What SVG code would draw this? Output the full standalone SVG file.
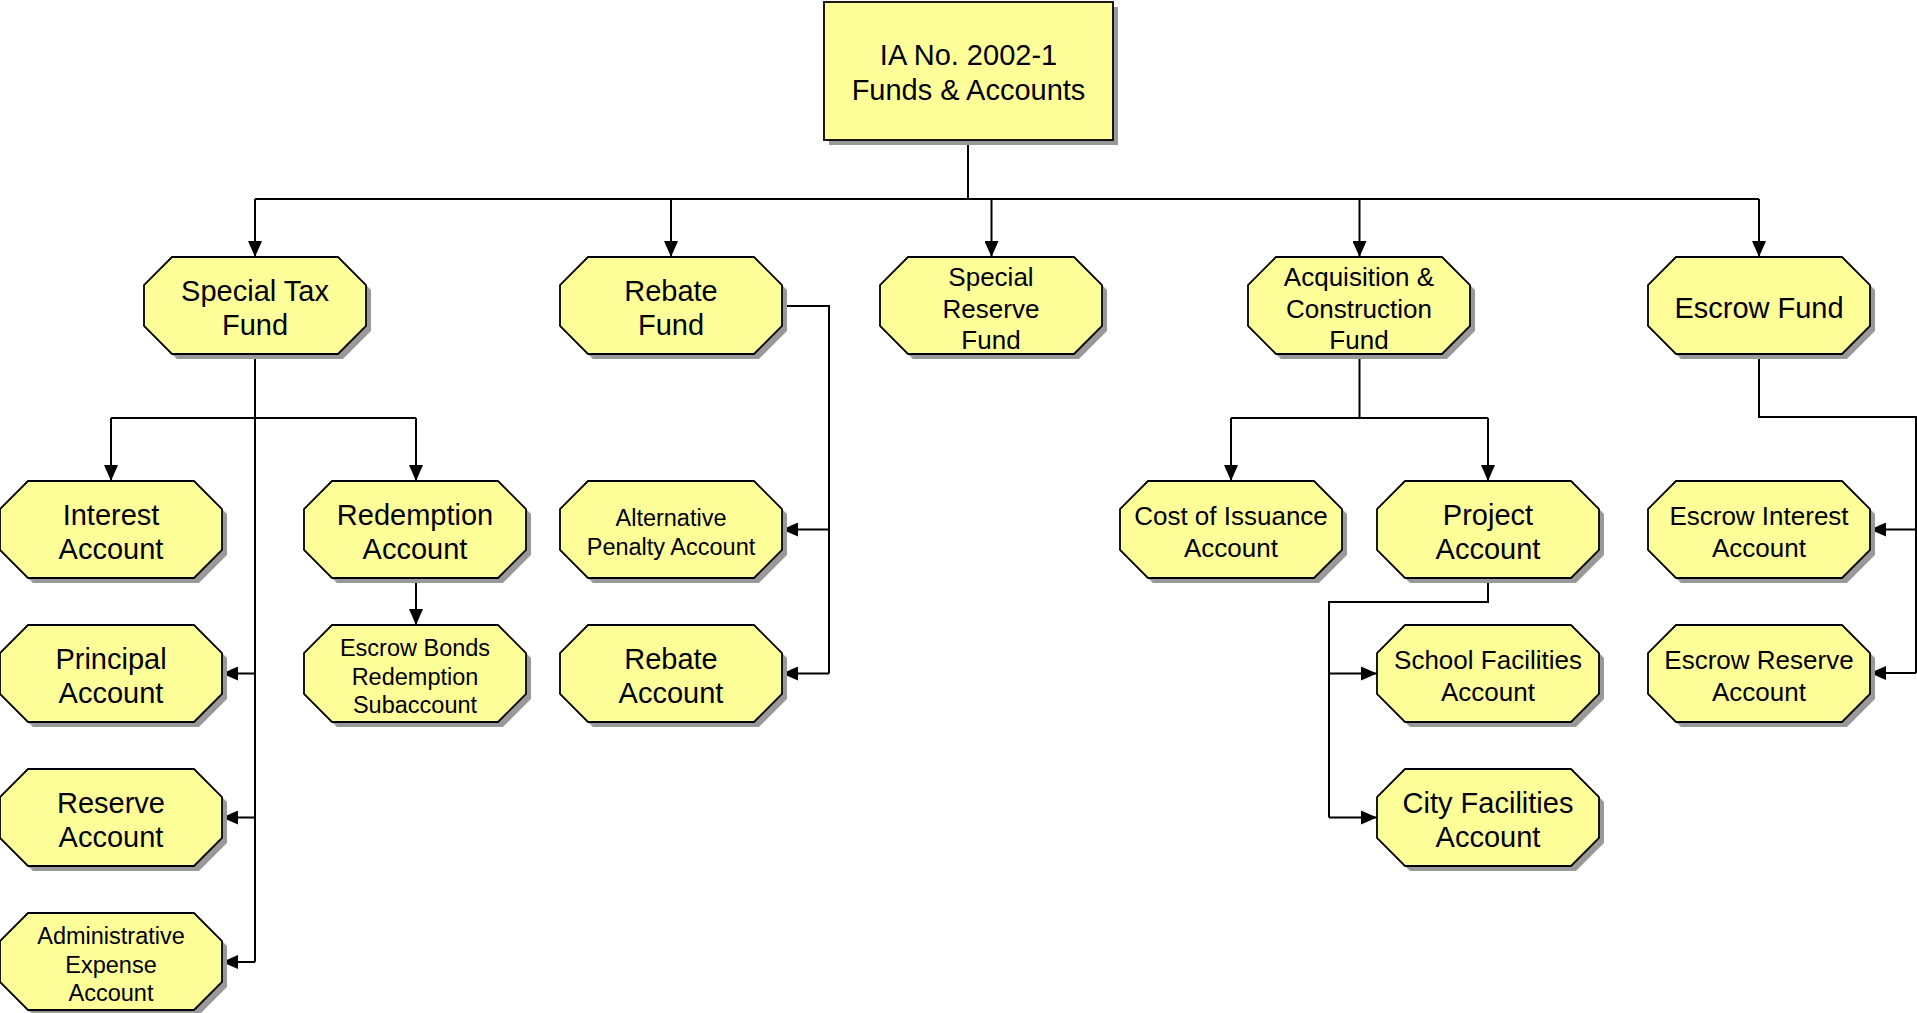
<svg xmlns="http://www.w3.org/2000/svg" xmlns:xlink="http://www.w3.org/1999/xlink" width="1917" height="1013" viewBox="0 0 1917 1013">
<style>
.oct{fill:#FFFF99;stroke:#000;stroke-width:1.8}
.sh{fill:#999}
text{font-family:"Liberation Sans",Arial,sans-serif;fill:#000;text-anchor:middle}
.b{font-size:29px}
.m{font-size:26px}
.s{font-size:23.5px}
.c path{fill:none;stroke:#000;stroke-width:2}
</style>
<defs>
<polygon id="o" points="28,0 194,0 222,28 222,69 194,97 28,97 0,69 0,28"/>
<marker id="a" viewBox="0 0 16 14" refX="16" refY="7" markerWidth="16" markerHeight="14" markerUnits="userSpaceOnUse" orient="auto">
<path d="M0,0 L16,7 L0,14 Z" fill="#000"/>
</marker>
</defs>
<rect width="1917" height="1013" fill="#fff"/>

<g class="c" id="connectors">
<path d="M968,140 V199 M255,199 H1759"/>
<path d="M255,199 V257" marker-end="url(#a)"/>
<path d="M671,199 V257" marker-end="url(#a)"/>
<path d="M991.5,199 V257" marker-end="url(#a)"/>
<path d="M1359.5,199 V257" marker-end="url(#a)"/>
<path d="M1759,199 V257" marker-end="url(#a)"/>
<path d="M255,354 V962 M111,418 H416"/>
<path d="M111,418 V481" marker-end="url(#a)"/>
<path d="M416,418 V481" marker-end="url(#a)"/>
<path d="M255,673.5 H222" marker-end="url(#a)"/>
<path d="M255,817.5 H222" marker-end="url(#a)"/>
<path d="M255,962 H222" marker-end="url(#a)"/>
<path d="M416,578 V625" marker-end="url(#a)"/>
<path d="M782,306 H829 V673.5"/>
<path d="M829,529.5 H782" marker-end="url(#a)"/>
<path d="M829,673.5 H782" marker-end="url(#a)"/>
<path d="M1359.5,354 V418 M1231,418 H1488"/>
<path d="M1231,418 V481" marker-end="url(#a)"/>
<path d="M1488,418 V481" marker-end="url(#a)"/>
<path d="M1488,578 V602 H1329 V817.5"/>
<path d="M1329,673.5 H1377" marker-end="url(#a)"/>
<path d="M1329,817.5 H1377" marker-end="url(#a)"/>
<path d="M1759,354 V417 H1916 V673"/>
<path d="M1916,529.5 H1870" marker-end="url(#a)"/>
<path d="M1916,673 H1870" marker-end="url(#a)"/>
</g>

<g id="root">
<rect x="829" y="7" width="289" height="138" class="sh"/>
<rect x="824" y="2" width="289" height="138" class="oct"/>
<text class="b" x="968.5" y="65">IA No. 2002-1</text>
<text class="b" x="968.5" y="100">Funds &amp; Accounts</text>
</g>

<g id="special-tax-fund" transform="translate(144,258.5)">
<use xlink:href="#o" class="sh" x="5" y="3.5"/><use xlink:href="#o" class="oct" y="-1.5"/>
<text class="b" x="111" y="42">Special Tax</text><text class="b" x="111" y="76">Fund</text>
</g>
<g id="rebate-fund" transform="translate(560,258.5)">
<use xlink:href="#o" class="sh" x="5" y="3.5"/><use xlink:href="#o" class="oct" y="-1.5"/>
<text class="b" x="111" y="42">Rebate</text><text class="b" x="111" y="76">Fund</text>
</g>
<g id="special-reserve-fund" transform="translate(880,258.5)">
<use xlink:href="#o" class="sh" x="5" y="3.5"/><use xlink:href="#o" class="oct" y="-1.5"/>
<text class="m" x="111" y="27.5">Special</text><text class="m" x="111" y="59">Reserve</text><text class="m" x="111" y="90.5">Fund</text>
</g>
<g id="acquisition-construction-fund" transform="translate(1248,258.5)">
<use xlink:href="#o" class="sh" x="5" y="3.5"/><use xlink:href="#o" class="oct" y="-1.5"/>
<text class="m" x="111" y="27.5">Acquisition &amp;</text><text class="m" x="111" y="59">Construction</text><text class="m" x="111" y="90.5">Fund</text>
</g>
<g id="escrow-fund" transform="translate(1648,258.5)">
<use xlink:href="#o" class="sh" x="5" y="3.5"/><use xlink:href="#o" class="oct" y="-1.5"/>
<text class="b" x="111" y="59.5">Escrow Fund</text>
</g>

<g id="interest-account" transform="translate(0,482.5)">
<use xlink:href="#o" class="sh" x="5" y="3.5"/><use xlink:href="#o" class="oct" y="-1.5"/>
<text class="b" x="111" y="42">Interest</text><text class="b" x="111" y="76">Account</text>
</g>
<g id="redemption-account" transform="translate(304,482.5)">
<use xlink:href="#o" class="sh" x="5" y="3.5"/><use xlink:href="#o" class="oct" y="-1.5"/>
<text class="b" x="111" y="42">Redemption</text><text class="b" x="111" y="76">Account</text>
</g>
<g id="alternative-penalty-account" transform="translate(560,482.5)">
<use xlink:href="#o" class="sh" x="5" y="3.5"/><use xlink:href="#o" class="oct" y="-1.5"/>
<text class="s" x="111" y="43.5">Alternative</text><text class="s" x="111" y="72.5">Penalty Account</text>
</g>
<g id="cost-of-issuance-account" transform="translate(1120,482.5)">
<use xlink:href="#o" class="sh" x="5" y="3.5"/><use xlink:href="#o" class="oct" y="-1.5"/>
<text class="m" x="111" y="42">Cost of Issuance</text><text class="m" x="111" y="74">Account</text>
</g>
<g id="project-account" transform="translate(1377,482.5)">
<use xlink:href="#o" class="sh" x="5" y="3.5"/><use xlink:href="#o" class="oct" y="-1.5"/>
<text class="b" x="111" y="42">Project</text><text class="b" x="111" y="76">Account</text>
</g>
<g id="escrow-interest-account" transform="translate(1648,482.5)">
<use xlink:href="#o" class="sh" x="5" y="3.5"/><use xlink:href="#o" class="oct" y="-1.5"/>
<text class="m" x="111" y="42">Escrow Interest</text><text class="m" x="111" y="74">Account</text>
</g>

<g id="principal-account" transform="translate(0,626.5)">
<use xlink:href="#o" class="sh" x="5" y="3.5"/><use xlink:href="#o" class="oct" y="-1.5"/>
<text class="b" x="111" y="42">Principal</text><text class="b" x="111" y="76">Account</text>
</g>
<g id="escrow-bonds-redemption-subaccount" transform="translate(304,626.5)">
<use xlink:href="#o" class="sh" x="5" y="3.5"/><use xlink:href="#o" class="oct" y="-1.5"/>
<text class="s" x="111" y="29.5">Escrow Bonds</text><text class="s" x="111" y="58">Redemption</text><text class="s" x="111" y="86.5">Subaccount</text>
</g>
<g id="rebate-account" transform="translate(560,626.5)">
<use xlink:href="#o" class="sh" x="5" y="3.5"/><use xlink:href="#o" class="oct" y="-1.5"/>
<text class="b" x="111" y="42">Rebate</text><text class="b" x="111" y="76">Account</text>
</g>
<g id="school-facilities-account" transform="translate(1377,626.5)">
<use xlink:href="#o" class="sh" x="5" y="3.5"/><use xlink:href="#o" class="oct" y="-1.5"/>
<text class="m" x="111" y="42">School Facilities</text><text class="m" x="111" y="74">Account</text>
</g>
<g id="escrow-reserve-account" transform="translate(1648,626.5)">
<use xlink:href="#o" class="sh" x="5" y="3.5"/><use xlink:href="#o" class="oct" y="-1.5"/>
<text class="m" x="111" y="42">Escrow Reserve</text><text class="m" x="111" y="74">Account</text>
</g>

<g id="reserve-account" transform="translate(0,770.5)">
<use xlink:href="#o" class="sh" x="5" y="3.5"/><use xlink:href="#o" class="oct" y="-1.5"/>
<text class="b" x="111" y="42">Reserve</text><text class="b" x="111" y="76">Account</text>
</g>
<g id="city-facilities-account" transform="translate(1377,770.5)">
<use xlink:href="#o" class="sh" x="5" y="3.5"/><use xlink:href="#o" class="oct" y="-1.5"/>
<text class="b" x="111" y="42">City Facilities</text><text class="b" x="111" y="76">Account</text>
</g>

<g id="administrative-expense-account" transform="translate(0,914.5)">
<use xlink:href="#o" class="sh" x="5" y="3.5"/><use xlink:href="#o" class="oct" y="-1.5"/>
<text class="s" x="111" y="29.5">Administrative</text><text class="s" x="111" y="58">Expense</text><text class="s" x="111" y="86.5">Account</text>
</g>
</svg>
